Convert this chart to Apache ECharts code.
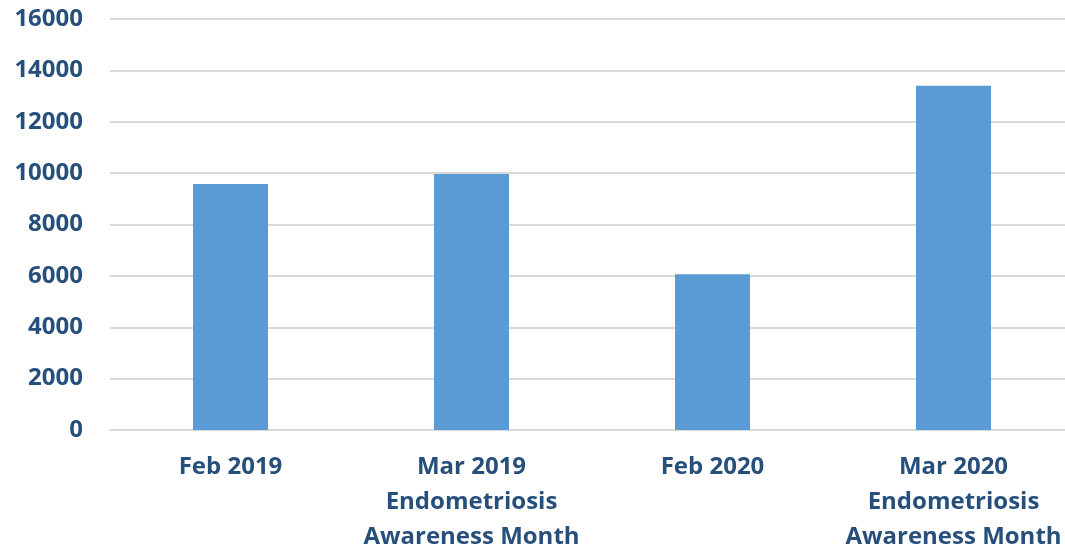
<!DOCTYPE html>
<html>
<head>
<meta charset="utf-8">
<script src="https://cdn.jsdelivr.net/npm/echarts@6/dist/echarts.min.js"></script>
<style>
  html, body { margin: 0; padding: 0; background: #fff; }
  #chart { width: 1065px; height: 549px; }
</style>
</head>
<body>
<div id="chart"></div>
<script>
// 月份类别
const categories = [
  "Feb 2019",
  "Mar 2019\nEndometriosis\nAwareness Month",
  "Feb 2020",
  "Mar 2020\nEndometriosis\nAwareness Month"
];
// 数值
const values = [9580, 9970, 6060, 13400];
// y轴刻度
const yTicks = [0, 2000, 4000, 6000, 8000, 10000, 12000, 14000, 16000];

const labelColor = "#264f7c";
const fontFamily = "'Open Sans', Lato, sans-serif";

const myChart = echarts.init(document.getElementById("chart"));
myChart.setOption({
  animation: false,
  grid: {
    left: 110, top: 19, width: 964, height: 411,
    containLabel: false, outerBoundsMode: "none"
  },
  xAxis: {
    type: "category",
    data: categories,
    axisLine: { show: true, lineStyle: { color: "#d9d9d9", width: 2 } },
    axisTick: { show: false },
    axisLabel: {
      color: labelColor,
      fontFamily,
      fontWeight: "bold",
      fontSize: 24,
      lineHeight: 35,
      margin: 20,
      interval: 0
    }
  },
  yAxis: {
    type: "value",
    min: yTicks[0],
    max: yTicks[yTicks.length - 1],
    interval: 2000,
    axisLine: { show: false },
    axisTick: { show: false },
    splitLine: { lineStyle: { color: "#d9d9d9", width: 2 } },
    axisLabel: {
      color: labelColor,
      fontFamily,
      fontWeight: "bold",
      fontSize: 24,
      margin: 27,
      formatter: (v) => String(v)
    }
  },
  series: [{
    type: "bar",
    data: values,
    barWidth: 75,
    itemStyle: { color: "#5b9bd5" }
  }]
});
</script>
</body>
</html>
